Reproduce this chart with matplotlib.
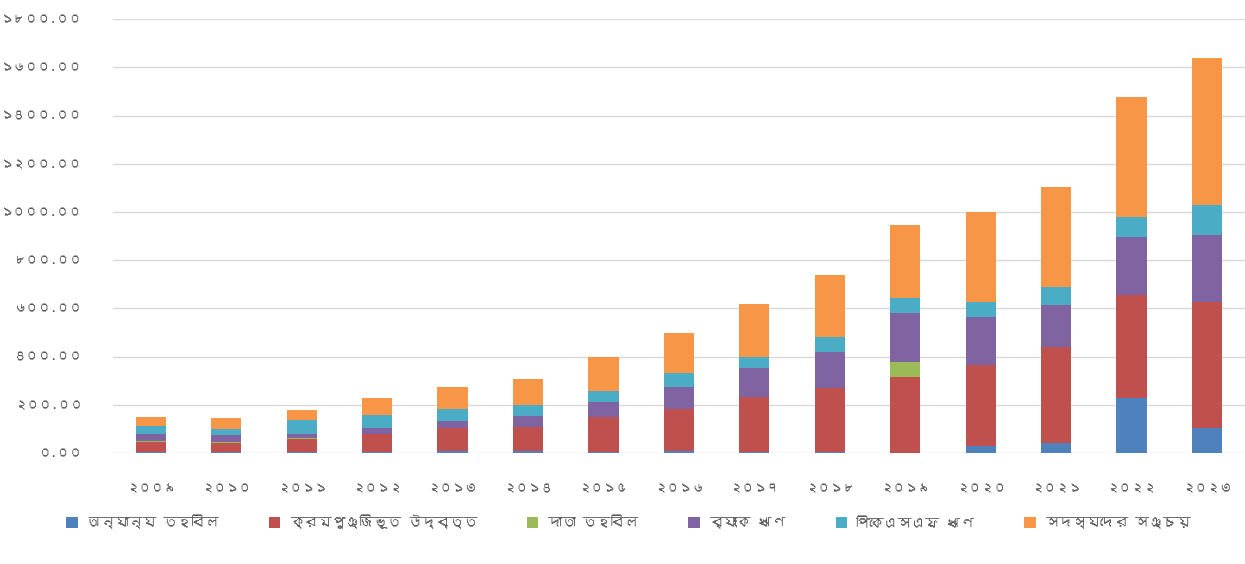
import matplotlib
matplotlib.use("Agg")
import matplotlib.pyplot as plt
import numpy as np
from matplotlib import font_manager as fm

# values (stack order bottom -> top)
years = list(range(2009, 2024))
other_fund = [3, 3, 3, 3, 8, 8, 3, 8, 5, 3, 0, 28, 40, 227, 102]
acc_surplus = [42, 40, 55, 75, 96, 100, 145, 174, 229, 265, 316, 337, 401, 428, 526]
donor_fund = [4, 2, 2, 0, 0, 0, 0, 0, 0, 0, 63, 0, 0, 0, 0]
bank_loan = [28, 28, 20, 25, 30, 45, 62, 93, 117, 152, 200, 200, 173, 242, 276]
pksf_loan = [33, 28, 55, 55, 50, 46, 45, 55, 49, 62, 62, 62, 76, 83, 125]
savings = [40, 43, 43, 70, 88, 107, 142, 166, 218, 256, 305, 371, 412, 498, 608]

labels = ["অন্যান্য তহবিল", "ক্রমপুঞ্জিভূত উদ্বৃত্ত", "দাতা তহবিল",
          "ব্যাংক ঋণ", "পিকেএসএফ ঋণ", "সদস্যদের সঞ্চয়"]
colors = ["#4F81BD", "#C0504D", "#9BBB59", "#8064A2", "#4BACC6", "#F79646"]

BN_DIGITS = str.maketrans("0123456789", "০১২৩৪৫৬৭৮৯")


def to_bn(s):
    return str(s).translate(BN_DIGITS)


def find_bengali_font():
    try:
        from fontTools.ttLib import TTFont
    except ImportError:
        return None
    for f in fm.fontManager.ttflist:
        try:
            cmap = TTFont(f.fname, fontNumber=0, lazy=True).getBestCmap()
            if cmap and 0x0995 in cmap:
                return f.name
        except Exception:
            pass
    return None


bn_font = find_bengali_font()
plt.rcParams["font.family"] = ([bn_font] if bn_font else []) + ["DejaVu Sans"]

fig = plt.figure(figsize=(12.45, 5.64), dpi=100)
ax = fig.add_axes([0.0908, 0.197, 0.909, 0.769])

series = [other_fund, acc_surplus, donor_fund, bank_loan, pksf_loan, savings]
x = np.arange(len(years))
bottom = np.zeros(len(years))
for vals, lab, col in zip(series, labels, colors):
    ax.bar(x, vals, width=0.4, bottom=bottom, color=col, label=lab)
    bottom += np.array(vals)

ax.set_xlim(-0.5, len(years) - 0.5)
ax.set_ylim(0, 1800)
yt = np.arange(0, 1801, 200)
ax.set_yticks(yt)
ax.set_yticklabels([to_bn(f"{v:.2f}") for v in yt])
ax.set_xticks(x)
ax.set_xticklabels([to_bn(y) for y in years])
ax.tick_params(axis="both", length=0, colors="#595959", labelsize=9)
ax.tick_params(axis="x", pad=22)
ax.tick_params(axis="y", pad=22)

ax.grid(axis="y", color="#D9D9D9", linewidth=1)
ax.set_axisbelow(True)
for s in ax.spines.values():
    s.set_visible(False)

fig.legend(loc="center", bbox_to_anchor=(0.505, 0.074), ncol=6, frameon=False,
           fontsize=10, handlelength=0.8, handleheight=0.8, columnspacing=3.6,
           handletextpad=0.7, labelcolor="#595959")

fig.savefig("out.png", dpi=100)
